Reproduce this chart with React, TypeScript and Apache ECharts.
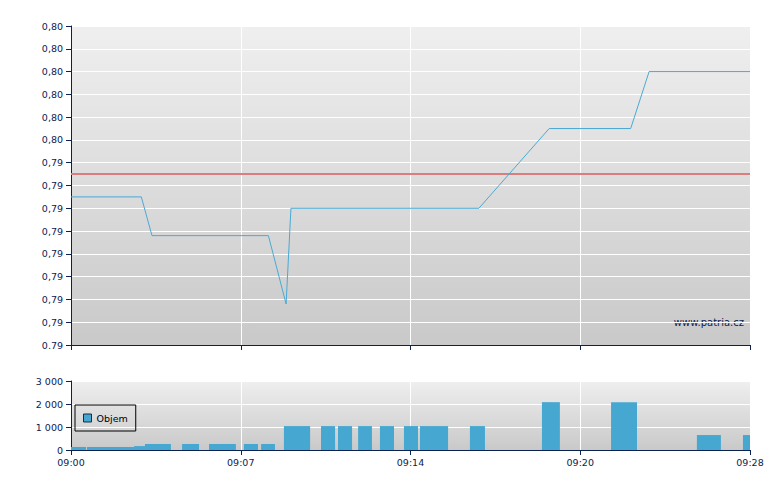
import React, { useEffect, useRef } from "react";
import * as echarts from "echarts";

// Tick labels
const xTickLabels = ["09:00", "09:07", "09:14", "09:20", "09:28"];
const priceTickLabels = [
  "0.79", "0,79", "0,79", "0,79", "0,79", "0,79", "0,79", "0,79", "0,79",
  "0,80", "0,80", "0,80", "0,80", "0,80", "0,80",
];
const volumeTickLabels = ["0", "1 000", "2 000", "3 000"];

// Price line (x = minutes after 09:00)
const priceTimes = [0, 2.9, 3.34, 8.14, 8.87, 9.07, 16.82, 19.72, 23.08, 23.84, 28];
const prices = [0.79475, 0.79475, 0.79458, 0.79458, 0.79428, 0.7947, 0.7947, 0.79505, 0.79505, 0.7953, 0.7953];
const referencePrice = 0.79485;
const referenceTimes = [0, 28];

// Volume bars (start minute, end minute, volume)
const volStart = [0, 0.66, 2.6, 3.05, 4.58, 5.69, 7.13, 7.84, 8.78, 10.31, 11.01, 11.84, 12.74, 13.73, 14.39, 16.45, 19.42, 22.27, 25.81, 27.71];
const volEnd = [0.62, 2.6, 3.05, 4.12, 5.28, 6.8, 7.71, 8.41, 9.86, 10.89, 11.59, 12.41, 13.32, 14.31, 15.55, 17.07, 20.16, 23.34, 26.8, 28];
const volumes = [130, 130, 170, 260, 260, 260, 260, 260, 1040, 1040, 1040, 1040, 1040, 1040, 1040, 1040, 2080, 2080, 650, 650];

const NAVY = "#0b2150";
const FONT = "DejaVu Sans";

export default function App() {
  const ref = useRef<HTMLDivElement>(null);
  useEffect(() => {
    if (!ref.current) return;
    const chart = echarts.init(ref.current, null, { renderer: "svg" });
    const bg = () =>
      new echarts.graphic.LinearGradient(0, 0, 0, 1, [
        { offset: 0, color: "#efefef" },
        { offset: 1, color: "#c9c9c9" },
      ]);
    const axisLine = { show: true, lineStyle: { color: NAVY, width: 1 } };
    const axisTick = { show: true, length: 5, lineStyle: { color: NAVY } };
    const splitLine = { show: true, lineStyle: { color: "#ffffff", width: 1 } };
    const labelStyle = { color: NAVY, fontFamily: FONT, fontSize: 9.5 };

    chart.setOption({
      animation: false,
      grid: [
        { left: 71, top: 26, width: 679, height: 319, show: true, backgroundColor: bg(), borderWidth: 0 },
        { left: 71, top: 381, width: 679, height: 69, show: true, backgroundColor: bg(), borderWidth: 0 },
      ],
      legend: {
        left: 75,
        top: 405,
        orient: "vertical",
        borderColor: "#000000",
        borderWidth: 1,
        borderRadius: 0,
        padding: [8, 8, 8, 8],
        itemWidth: 8,
        itemHeight: 8,
        textStyle: { color: "#000000", fontFamily: FONT, fontSize: 9.5 },
        data: [
          { name: "Objem", icon: "rect", itemStyle: { color: "#46a7d0", borderColor: "#1a2a40", borderWidth: 1 } },
        ],
      },
      xAxis: [
        {
          type: "value", gridIndex: 0, min: 0, max: 28, interval: 7,
          axisLine, axisTick, splitLine, axisLabel: { show: false },
        },
        {
          type: "value", gridIndex: 1, min: 0, max: 28, interval: 7,
          axisLine, axisTick, splitLine,
          axisLabel: { ...labelStyle, margin: 7, formatter: (_v: number, i: number) => xTickLabels[i] ?? "" },
        },
      ],
      yAxis: [
        {
          type: "value", gridIndex: 0, min: 0.7941, max: 0.7955, interval: 0.0001,
          axisLine, axisTick, splitLine,
          axisLabel: { ...labelStyle, margin: 8, formatter: (_v: number, i: number) => priceTickLabels[i] ?? "" },
        },
        {
          type: "value", gridIndex: 1, min: 0, max: 3000, interval: 1000,
          axisLine, axisTick, splitLine,
          axisLabel: { ...labelStyle, margin: 8, formatter: (_v: number, i: number) => volumeTickLabels[i] ?? "" },
        },
      ],
      series: [
        {
          name: "Reference",
          type: "line",
          xAxisIndex: 0,
          yAxisIndex: 0,
          showSymbol: false,
          silent: true,
          z: 2,
          data: referenceTimes.map((t) => [t, referencePrice]),
          lineStyle: { color: "#dc7d7d", width: 2 },
          itemStyle: { color: "#dc7d7d" },
        },
        {
          name: "Cena",
          type: "line",
          xAxisIndex: 0,
          yAxisIndex: 0,
          showSymbol: false,
          z: 3,
          data: priceTimes.map((t, i) => [t, prices[i]]),
          lineStyle: { color: "#4ba9d3", width: 1 },
          itemStyle: { color: "#4ba9d3" },
        },
        {
          name: "Objem",
          type: "custom",
          xAxisIndex: 1,
          yAxisIndex: 1,
          itemStyle: { color: "#46a7d0" },
          encode: { x: [0, 1], y: 2 },
          data: volumes.map((v, i) => [volStart[i], volEnd[i], v]),
          renderItem: (_params: any, api: any) => {
            const s = api.coord([api.value(0), api.value(2)]);
            const e = api.coord([api.value(1), 0]);
            return {
              type: "rect",
              shape: { x: s[0], y: s[1], width: e[0] - s[0], height: e[1] - s[1] },
              style: { fill: "#46a7d0" },
            };
          },
        },
      ],
      graphic: [
        {
          type: "text",
          right: 36,
          top: 317,
          style: { text: "www.patria.cz", fill: NAVY, font: `10px "${FONT}"` },
        },
      ],
    });
    return () => chart.dispose();
  }, []);
  return <div ref={ref} style={{ position: "absolute", left: 0, top: 0, width: 780, height: 490 }} />;
}
